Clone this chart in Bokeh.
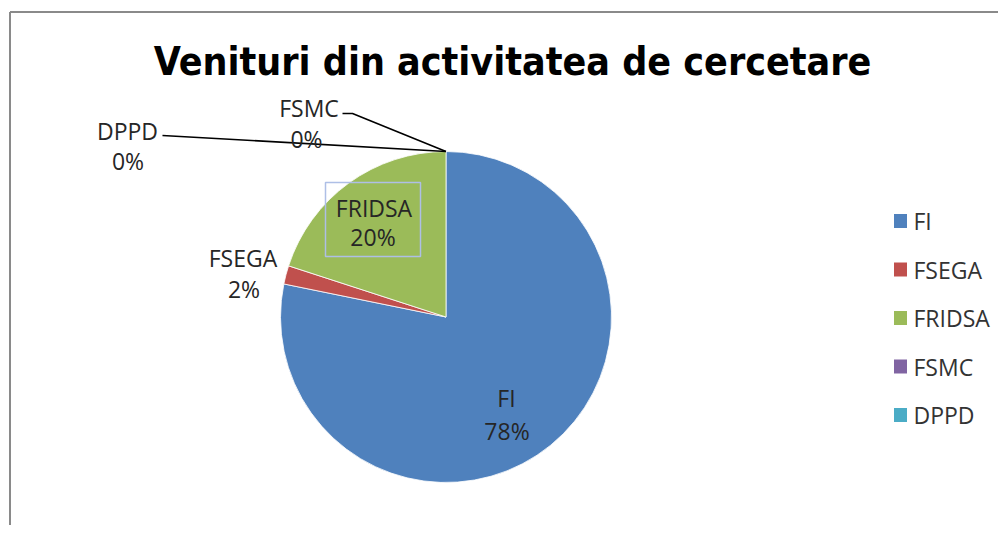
import math
from bokeh.plotting import figure
from bokeh.models import Range1d, ColumnDataSource
from bokeh.core.properties import value
from bokeh.embed import file_html
from bokeh.resources import INLINE

# ---- data ----
title = "Venituri din activitatea de cercetare"
categories = ["FI", "FSEGA", "FRIDSA", "FSMC", "DPPD"]
shares = [78.2, 1.8, 20.0, 0.0, 0.0]
colors = ["#4F81BD", "#C0504D", "#9BBB59", "#8064A2", "#4BACC6"]

# ---- layout (screen pixel coordinates) ----
W, H = 998, 525
def sx(x): return x
def sy(y): return H - y

CX, CY, R = sx(445.5), sy(316.5), 165.5
# label anchors: (name center x, name center y, pct center x, pct center y)
label_pos = {
    "FI": (506, 397.5, 506.5, 430),
    "FSEGA": (242.5, 257.5, 243.5, 288),
    "FRIDSA": (373.5, 207.5, 372.5, 236.5),
    "FSMC": (308.5, 107.5, 306, 138.5),
    "DPPD": (127, 130.5, 127.5, 160.5),
}
leader_start = {"FSMC": [(342, 113), (352, 113)], "DPPD": [(162, 135)]}

p = figure(width=W, height=H, x_range=Range1d(0, W), y_range=Range1d(0, H),
           output_backend="svg", toolbar_location=None,
           x_axis_type=None, y_axis_type=None, min_border=0,
           outline_line_color=None, background_fill_color="white",
           border_fill_color="white")
p.grid.visible = False

# chart frame
p.line([sx(9.5), sx(9.5)], [sy(560), sy(11.5)], line_color="#8a8a8a", line_width=2)
p.line([sx(9.5), sx(1010)], [sy(11.5), sy(11.5)], line_color="#8a8a8a", line_width=2)

total = sum(shares)
starts, ends, cols, mids = [], [], [], {}
cum = 0.0
for c, v, col in zip(categories, shares, colors):
    a0 = math.pi / 2 - 2 * math.pi * cum / total
    cum += v
    a1 = math.pi / 2 - 2 * math.pi * cum / total
    mids[c] = (a0 + a1) / 2
    if v > 0:
        starts.append(a1)
        ends.append(a0)
        cols.append(col)

src = ColumnDataSource(dict(x=[CX] * len(starts), y=[CY] * len(starts),
                            s=starts, e=ends, c=cols))
p.wedge(x="x", y="y", radius=R, start_angle="s", end_angle="e",
        direction="anticlock", fill_color="c", line_color="white",
        line_width=0.8, source=src)

# FRIDSA label selection box
p.quad(left=sx(325), right=sx(420), top=sy(182), bottom=sy(256),
       fill_color=None, line_color="#aebfe6", line_width=1.5)

# leader lines for zero slices
for c in ["FSMC", "DPPD"]:
    ang = mids[c]
    ex, ey = CX + R * math.cos(ang), CY + R * math.sin(ang)
    xs = [sx(x) for x, _ in leader_start[c]] + [ex]
    ys = [sy(y) for _, y in leader_start[c]] + [ey]
    p.line(xs, ys, line_color="black", line_width=1.6)

# data labels
names_x, names_y, pct_x, pct_y, pct_t = [], [], [], [], []
for c, v in zip(categories, shares):
    a, b, cc, d = label_pos[c]
    names_x.append(sx(a)); names_y.append(sy(b))
    pct_x.append(sx(cc)); pct_y.append(sy(d))
    pct_t.append(f"{round(v / total * 100)}%")

p.text(names_x, names_y, text=categories, text_font=value("Open Sans"),
       text_font_size="23px", text_align="center", text_baseline="middle",
       text_color="#262626")
p.text(pct_x, pct_y, text=pct_t, text_font=value("Open Sans"),
       text_font_size="23px", text_align="center", text_baseline="middle",
       text_color="#262626")

# legend
leg_y = [sy(220.5 + 48.5 * i) for i in range(len(categories))]
p.rect(x=[sx(900)] * len(categories), y=leg_y, width=13, height=14,
       fill_color=colors, line_color=None)
p.text([sx(913)] * len(categories), leg_y, text=categories,
       text_font=value("Open Sans"), text_font_size="23px", text_align="left",
       text_baseline="middle", text_color="#333333")

# title
p.text([sx(512)], [sy(61)], text=[title],
       text_font=value("'DejaVu Sans Condensed', Roboto"),
       text_font_size="39px", text_font_style="bold", text_align="center",
       text_baseline="middle", text_color="black")

open("out.html", "w").write(file_html(p, INLINE))
